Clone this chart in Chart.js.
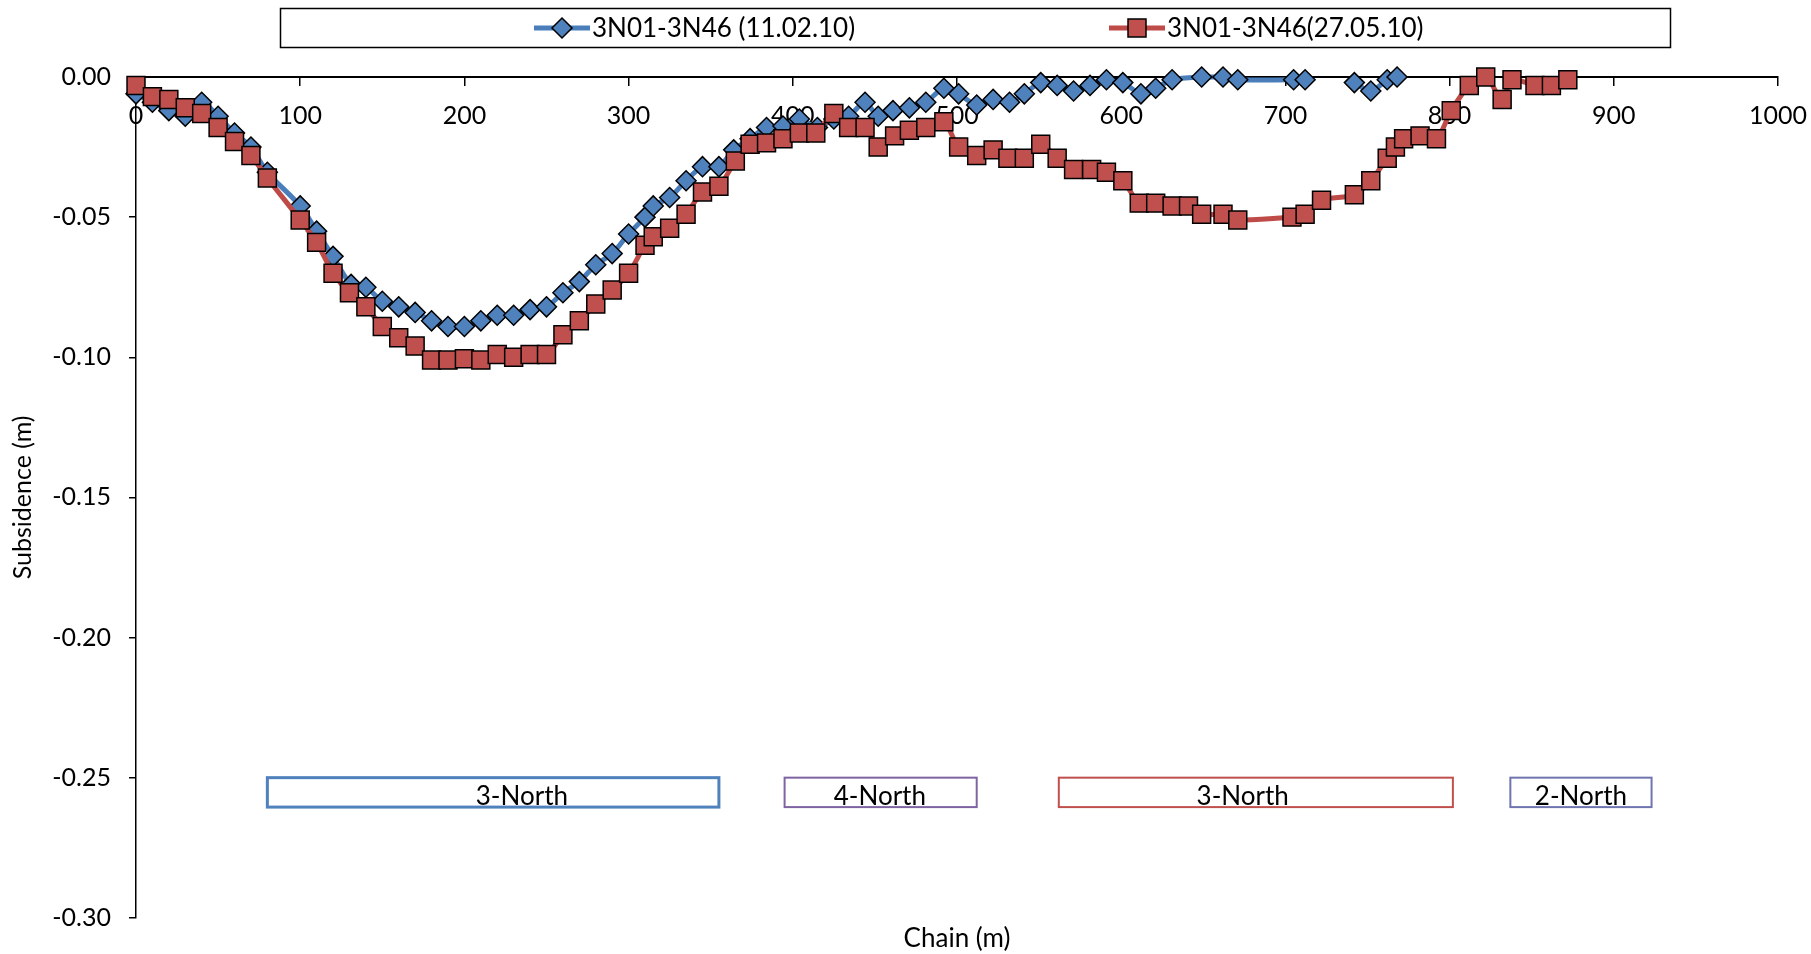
<!DOCTYPE html>
<html>
<head>
<meta charset="utf-8">
<script src="https://cdn.jsdelivr.net/npm/chart.js@4.4.1/dist/chart.umd.min.js"></script>
<style>
  html,body{margin:0;background:#fff}
  #wrap{width:1811px;height:954px}
</style>
</head>
<body>
<div id="wrap"><canvas id="c" width="1811" height="954"></canvas></div>
<script>
/* subsidence profile along chain, two survey dates */
const chainFeb=[0,10,20,30,40,50,60,70,80,100,110,120,131,140,150,160,170,180,190,200,
  210,220,230,240,250,260,270,280,290,300,310,315,325,335,345,355,364,374,384,394,
  404,415,425,434,444,452,461,471,481,492,501,512,522,532,541,551,561,571,581,591,
  601,612,621,631,649,662,671,705,712,727,742,752,762,768];
const subsFeb=[-0.006,-0.009,-0.012,-0.014,-0.009,-0.014,-0.020,-0.025,-0.034,-0.046,
  -0.055,-0.064,-0.074,-0.075,-0.080,-0.082,-0.084,-0.087,-0.089,-0.089,
  -0.087,-0.085,-0.085,-0.083,-0.082,-0.077,-0.073,-0.067,-0.063,-0.056,
  -0.050,-0.046,-0.043,-0.037,-0.032,-0.032,-0.026,-0.022,-0.018,-0.0175,
  -0.015,-0.018,-0.015,-0.014,-0.009,-0.014,-0.012,-0.011,-0.009,-0.004,
  -0.006,-0.010,-0.008,-0.009,-0.006,-0.002,-0.003,-0.005,-0.003,-0.001,
  -0.002,-0.006,-0.004,-0.001,0.000,0.000,-0.001,-0.001,-0.001,null,
  -0.002,-0.005,-0.001,0.000];

const chainMay=[0,10,20,30,40,50,60,70,80,100,110,120,130,140,150,160,170,180,190,200,
  210,220,230,240,250,260,270,280,290,300,310,315,325,335,345,355,365,374,384,394,
  404,414,425,434,444,452,462,471,481,492,501,512,522,531,541,551,561,571,582,591,
  601,611,621,631,641,649,662,671,704,712,722,742,752,762,767,772,782,792,801,812,
  822,832,838,852,862,872];
const subsMay=[-0.003,-0.007,-0.008,-0.011,-0.013,-0.018,-0.023,-0.028,-0.036,-0.051,
  -0.059,-0.070,-0.077,-0.082,-0.089,-0.093,-0.096,-0.101,-0.101,-0.1005,
  -0.101,-0.099,-0.100,-0.099,-0.099,-0.092,-0.087,-0.081,-0.076,-0.070,
  -0.060,-0.057,-0.054,-0.049,-0.041,-0.039,-0.030,-0.024,-0.0235,-0.022,
  -0.020,-0.020,-0.013,-0.018,-0.018,-0.025,-0.021,-0.019,-0.018,-0.016,
  -0.025,-0.028,-0.026,-0.029,-0.029,-0.024,-0.029,-0.033,-0.033,-0.034,
  -0.037,-0.045,-0.045,-0.046,-0.046,-0.049,-0.049,-0.051,-0.050,-0.049,
  -0.044,-0.042,-0.037,-0.029,-0.025,-0.022,-0.021,-0.022,-0.012,-0.003,
  0.000,-0.008,-0.001,-0.003,-0.003,-0.001];

const seriesNames=['3N01-3N46 (11.02.10)','3N01-3N46(27.05.10)'];

// panel zones drawn as boxes under the profile
const zoneFrom=[80,395,562,837];
const zoneTo=[355,512,802,923];
const zoneText=['3-North','4-North','3-North','2-North'];
const zoneTextAt=[235,453,674,880];
const ZONE_TOP=-0.25, ZONE_BOTTOM=-0.2605;
const ZONE_COLORS=['#4F81BD','#8064A2','#C0504D','#7075B0'];
const ZONE_LW=[3,2,2,2];

const BLUE='#4A7EBB', BLUE_F='#4F81BD', RED='#BE4B48', RED_F='#C0504D';
const FONT='Lato';

function marker(c,style,x,y,fill){
  c.fillStyle=fill; c.strokeStyle='#000'; c.lineWidth=1.5; c.beginPath();
  if(style==='rectRot'){c.moveTo(x,y-10);c.lineTo(x+10,y);c.lineTo(x,y+10);c.lineTo(x-10,y);c.closePath();}
  else c.rect(x-9,y-9,18,18);
  c.fill(); c.stroke();
}

const legendBox={id:'legendBox',afterDraw(ch){
  const c=ch.ctx; c.save();
  c.strokeStyle='#000'; c.lineWidth=1.5; c.strokeRect(280.5,8.5,1390,39);
  const cy=28, starts=[534,1109];
  ch.data.datasets.forEach((ds,i)=>{
    const x0=starts[i];
    c.strokeStyle=ds.borderColor; c.lineWidth=5; c.beginPath();
    c.moveTo(x0,cy); c.lineTo(x0+56,cy); c.stroke();
    marker(c,ds.pointStyle,x0+28,cy,ds.pointBackgroundColor);
    c.fillStyle='#000'; c.font='26px '+FONT; c.textBaseline='middle'; c.textAlign='left';
    c.fillText(ds.label,x0+58,cy+1);
  });
  c.restore();
}};

const zones={id:'zones',afterDatasetsDraw(ch){
  const {x,y}=ch.scales, c=ch.ctx; c.save();
  zoneFrom.forEach((f,i)=>{
    const l=x.getPixelForValue(f), r=x.getPixelForValue(zoneTo[i]);
    const t=y.getPixelForValue(ZONE_TOP), b=y.getPixelForValue(ZONE_BOTTOM);
    c.strokeStyle=ZONE_COLORS[i]; c.lineWidth=ZONE_LW[i]; c.strokeRect(l,t,r-l,b-t);
    c.fillStyle='#000'; c.font='26px '+FONT; c.textAlign='center'; c.textBaseline='alphabetic';
    c.fillText(zoneText[i],x.getPixelForValue(zoneTextAt[i]),b-2);
  });
  c.restore();
}};

Chart.defaults.font.family=FONT;
Chart.defaults.color='#000';

new Chart(document.getElementById('c'),{
  type:'line',
  data:{datasets:[
    {label:seriesNames[0],data:chainFeb.map((x,i)=>({x,y:subsFeb[i]})),
     borderColor:BLUE,backgroundColor:BLUE_F,borderWidth:5,tension:0.3,
     pointStyle:'rectRot',pointRadius:10,pointBackgroundColor:BLUE_F,pointBorderColor:'#000',pointBorderWidth:1.5,
     spanGaps:false,clip:false,order:2},
    {label:seriesNames[1],data:chainMay.map((x,i)=>({x,y:subsMay[i]})),
     borderColor:RED,backgroundColor:RED_F,borderWidth:5,tension:0.3,
     pointStyle:'rect',pointRadius:12.7,pointBackgroundColor:RED_F,pointBorderColor:'#000',pointBorderWidth:1.5,
     clip:false,order:1}
  ]},
  options:{
    responsive:false,animation:false,devicePixelRatio:1,
    layout:{padding:{top:77,right:33,left:0,bottom:0}},
    plugins:{
      legend:{display:false},tooltip:{enabled:false},
      title:{display:true,position:'bottom',fullSize:false,text:'Chain (m)',
        font:{size:26,weight:'normal'},color:'#000',padding:{top:5,bottom:0}}
    },
    scales:{
      x:{type:'linear',position:{y:0},min:0,max:1000,
        afterFit(s){s.paddingLeft=0;s.paddingRight=0;},
        ticks:{stepSize:100,font:{size:25},color:'#000',padding:16,maxRotation:0,callback:v=>String(v)},
        grid:{display:true,drawOnChartArea:false,drawTicks:true,tickLength:8,color:'#000',lineWidth:1.5},
        border:{display:true,color:'#000',width:2}},
      y:{min:-0.3,max:0,
        afterFit(s){s.width=136;},
        ticks:{stepSize:0.05,font:{size:25},color:'#000',padding:18,callback:v=>(+v).toFixed(2)},
        grid:{display:true,drawOnChartArea:false,drawTicks:true,tickLength:7,color:'#000',lineWidth:1.5},
        border:{display:true,color:'#000',width:1.5},
        title:{display:true,text:'Subsidence (m)',font:{size:25},color:'#000',padding:{top:8,bottom:0}}}
    }
  },
  plugins:[legendBox,zones]
});
</script>
</body>
</html>
